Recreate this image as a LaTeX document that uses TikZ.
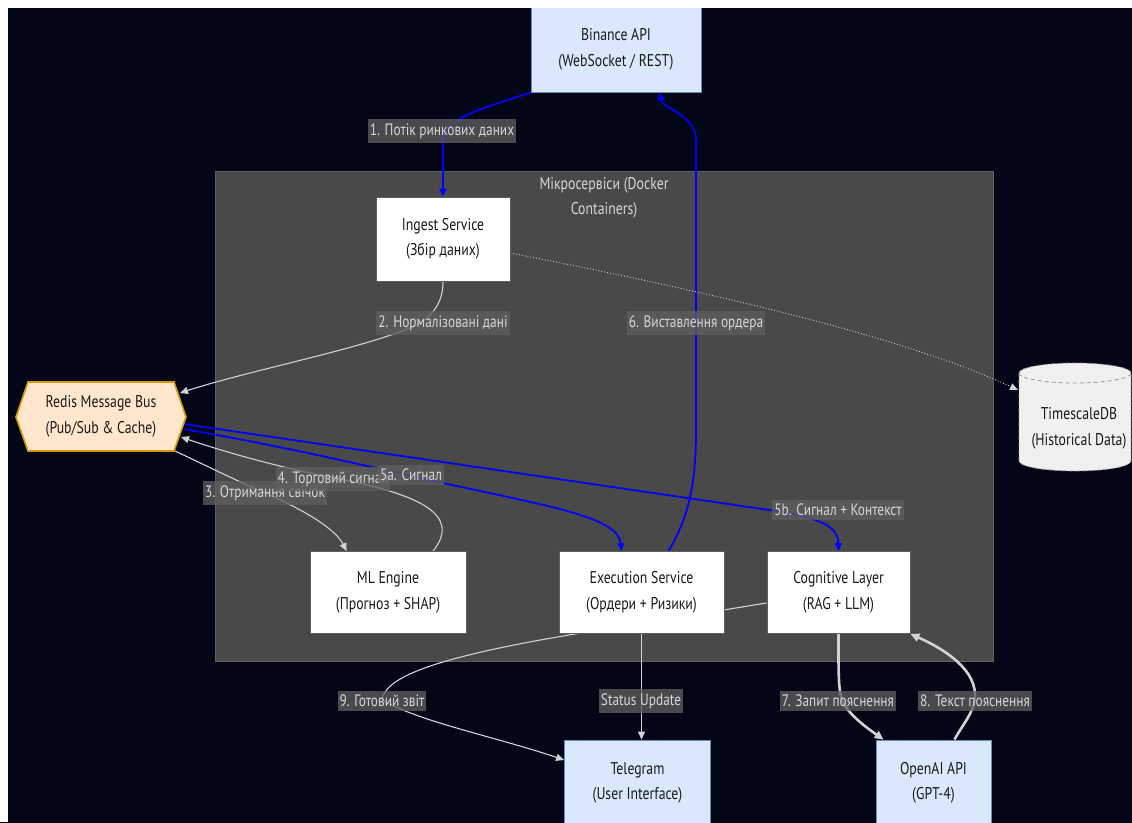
\documentclass[tikz,border=0pt]{standalone}
\usepackage{fontspec}
\setmainfont{PT Sans}[FakeStretch=0.81]
\usetikzlibrary{arrows.meta,calc}
\pgfdeclarelayer{bg}
\pgfdeclarelayer{edges}
\pgfsetlayers{bg,edges,main}
\definecolor{bgc}{RGB}{2,6,23}
\definecolor{clusterc}{RGB}{73,73,73}
\definecolor{clusterd}{RGB}{95,95,95}
\definecolor{bluefill}{RGB}{218,232,252}
\definecolor{bluedraw}{RGB}{108,142,191}
\definecolor{peach}{RGB}{255,230,204}
\definecolor{orangec}{RGB}{215,155,0}
\definecolor{ntext}{RGB}{25,25,25}
\definecolor{ltext}{RGB}{215,215,215}
\definecolor{lfill}{RGB}{95,95,95}
\definecolor{edgegray}{RGB}{211,211,211}
\definecolor{pureblue}{RGB}{0,0,255}
\definecolor{dbfill}{RGB}{240,240,240}
\definecolor{dbdraw}{RGB}{150,150,150}
\tikzset{
  nodefont/.style={font=\fontsize{17}{25.5}\selectfont},
  svc/.style={draw=clusterd, fill=white, line width=0.8pt, align=center, inner sep=0pt,
    text=ntext, nodefont, minimum height=82pt},
  ext/.style={draw=bluedraw, fill=bluefill, line width=0.8pt, align=center, inner sep=0pt,
    text=ntext, nodefont},
  plaintext/.style={align=center, inner sep=0pt, text=ntext, nodefont},
  elabel/.style={fill=lfill, fill opacity=0.77, text opacity=1, text=ltext,
    inner xsep=2pt, inner ysep=4pt, font=\fontsize{16.5}{18}\selectfont},
  arr/.style={-{Triangle[length=8pt,width=7pt]}},
  grayedge/.style={arr, draw=edgegray, line width=1.1pt},
  thickedge/.style={-{Triangle[length=9pt,width=8pt]}, draw=edgegray, line width=2.6pt},
  blueedge/.style={-{Triangle[length=8pt,width=7pt]}, draw=pureblue, line width=1.8pt},
  dotedge/.style={-{Triangle[length=8pt,width=7pt]}, draw=edgegray, line width=0.9pt, dotted},
}
\begin{document}
\begin{tikzpicture}[x=1pt,y=-1pt]
\useasboundingbox (0,0) rectangle (1132,822);
\begin{pgfonlayer}{bg}
  \fill[bgc] (0,0) rectangle (1145,835);
  \draw[fill=clusterc, draw=clusterd, line width=0.8pt] (215,171) rectangle (993,661);
\end{pgfonlayer}
\node[text=ltext, align=center, font=\fontsize{17}{25}\selectfont] (ctitle) at (604,198) {Мікросервіси (Docker\\Containers)};

% nodes
\node[ext, minimum width=170pt, minimum height=85pt] (binance) at (616,49.5) {Binance API\\(WebSocket / REST)};
\node[svc, minimum width=134pt, minimum height=84pt] (ingest) at (443,239) {Ingest Service\\(Збір даних)};
\node[svc, minimum width=156pt] (ml) at (388,592.5) {ML Engine\\(Прогноз + SHAP)};
\node[svc, minimum width=165pt] (exec) at (641.5,592.5) {Execution Service\\(Ордери + Ризики)};
\node[svc, minimum width=143pt] (cog) at (838.5,592.5) {Cognitive Layer\\(RAG + LLM)};
\node[ext, minimum width=146pt, minimum height=86pt] (tele) at (637.5,783) {Telegram\\(User Interface)};
\node[ext, minimum width=115pt, minimum height=86pt] (openai) at (933.5,783) {OpenAI API\\(GPT-4)};

% Redis hexagon
\draw[fill=peach, draw=orangec, line width=1.6pt] (16,417) -- (28,382) -- (174,382) -- (186,417) -- (174,451) -- (28,451) -- cycle;
\node[plaintext] (redis) at (101,416.5) {Redis Message Bus\\(Pub/Sub \& Cache)};

% TimescaleDB cylinder
\draw[fill=dbfill, draw=dbdraw, line width=0.8pt, dash pattern=on 4pt off 3pt]
  (1019,373) -- (1019,461) arc[start angle=180, end angle=360, x radius=56pt, y radius=10pt]
  -- (1131,373) arc[start angle=0, end angle=180, x radius=56pt, y radius=10pt] -- cycle;
\draw[draw=dbdraw, line width=0.8pt, dash pattern=on 4pt off 3pt]
  (1019,373) arc[start angle=180, end angle=360, x radius=56pt, y radius=10pt];
\node[plaintext] (tsdb) at (1079,428.5) {TimescaleDB\\(Historical Data)};

% connector end coordinates on Redis / TimescaleDB
\coordinate (rIn2) at (180,393);
\coordinate (rOut3) at (175,451);
\coordinate (rIn4) at (181,437);
\coordinate (rOut5a) at (184,429);
\coordinate (rOut5b) at (184,424);
\coordinate (tsIn) at (1018,390);

\begin{pgfonlayer}{edges}
  % 1
  \draw[blueedge] (binance.south west) .. controls (485,108) and (443,118) .. (443,140) -- (ingest.north);
  % 6
  \draw[blueedge] ($(exec.north)+(27,0)$) .. controls (690,515) and (696,480) .. (696,430) -- (696,140)
     .. controls (696,115) and (662,108) .. ($(binance.south)+(44,0)$);
  % 2
  \draw[grayedge] (ingest.south) .. controls (443,300) and (436,312) .. (420,323)
     .. controls (380,345) and (250,370) .. (rIn2);
  % dotted to TimescaleDB
  \draw[dotedge] ($(ingest.east)+(0,14)$) .. controls (700,290) and (900,335) .. (tsIn);
  % 3
  \draw[grayedge] (rOut3) .. controls (205,465) and (235,480) .. (265,493)
     .. controls (300,508) and (335,528) .. ($(ml.north west)+(37,0)$);
  % 4
  \draw[grayedge] ($(ml.north)+(45,0)$) .. controls (462,515) and (420,495) .. (340,479)
     .. controls (270,466) and (210,447) .. (rIn4);
  % 5a
  \draw[blueedge] (rOut5a) .. controls (280,446) and (350,462) .. (411,476)
     .. controls (540,505) and (618,515) .. ($(exec.north)+(-20,0)$);
  % 5b
  \draw[blueedge] (rOut5b) -- (769,510) .. controls (825,518) and (838,528) .. (cog.north);
  % 9
  \draw[grayedge] ($(cog.west)+(0,10.5)$) -- (600,630) .. controls (420,658) and (385,680) .. (382,700)
     .. controls (420,722) and (500,738) .. ($(tele.west)+(0,-23)$);
  % status
  \draw[grayedge] (exec.south) -- (exec.south |- tele.north);
  % 7
  \draw[thickedge] (cog.south) .. controls (838.5,665) and (838,690) .. (842,700)
     .. controls (848,715) and (870,730) .. ($(openai.north west)+(8,0)$);
  % 8
  \draw[thickedge] ($(openai.north)+(21,0)$) .. controls (962,725) and (975,712) .. (975,695)
     .. controls (975,665) and (935,645) .. (cog.south east);
\end{pgfonlayer}

% edge labels
\node[elabel] (l1) at (442,131) {1. Потік ринкових даних};
\node[elabel] (l2) at (443,323) {2. Нормалізовані дані};
\node[elabel] (l6) at (696,323) {6. Виставлення ордера};
\node[elabel] (l3) at (265,493) {3. Отримання свічок};
\node[elabel] (l4) at (333,479) {4. Торговий сигнал};
\node[elabel] (l5a) at (411,475) {5a. Сигнал};
\node[elabel] (l5b) at (838,510) {5b. Сигнал + Контекст};
\node[elabel] (l9) at (382,701) {9. Готовий звіт};
\node[elabel] (lst) at (641,701) {Status Update};
\node[elabel] (l7) at (838,701) {7. Запит пояснення};
\node[elabel] (l8) at (975,701) {8. Текст пояснення};

% white frame strips
\fill[white] (0,0) rectangle (1132,8);
\fill[white] (0,0) rectangle (8,822);
\end{tikzpicture}
\end{document}
